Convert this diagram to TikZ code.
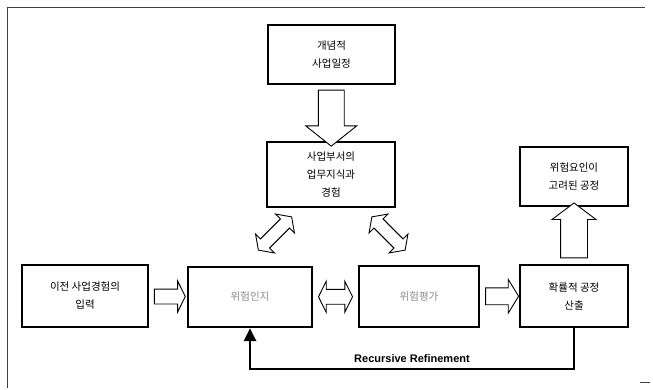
\documentclass[tikz,border=0pt]{standalone}
\usepackage{fontspec}
\newfontfamily\krfont{Noto Sans CJK KR}
\newfontfamily\lsans{Liberation Sans}
\usetikzlibrary{shapes.arrows,calc,arrows.meta}
\begin{document}
\begin{tikzpicture}[x=1pt,y=-1pt,
  box/.style={draw=black,line width=2.2pt,fill=white,align=center,inner sep=0pt,
    font=\krfont\fontsize{10.5}{18}\selectfont},
  sarrow/.style={shape=single arrow,draw=black,line width=0.9pt,fill=white,inner xsep=0pt},
  darrow/.style={shape=double arrow,draw=black,line width=0.9pt,fill=white,inner xsep=0pt},
  fb/.style={line width=2.8pt,-{Triangle[width=12pt,length=13pt]}}]
\useasboundingbox (0,0) rectangle (653,390);
% frame
\draw[line width=0.8pt,black!75] (7,388) -- (7,7) -- (645,7);
\draw[line width=0.8pt,black!75] (640,382) -- (650,382);
% boxes
\node[box,minimum width=127pt,minimum height=59pt] (plan) at (331.5,54.5) {개념적\\사업일정};
\node[box,minimum width=128pt,minimum height=65pt] (know) at (331,174.5) {사업부서의\\업무지식과\\경험};
\node[box,minimum width=108pt,minimum height=59pt] (riskf) at (574,176.5) {위험요인이\\고려된 공정};
\node[box,minimum width=126pt,minimum height=62pt] (prev) at (85,296) {이전 사업경험의\\입력};
\node[box,minimum width=124pt,minimum height=60pt,text=black!45] (recog) at (250,297) {위험인지};
\node[box,minimum width=120pt,minimum height=61pt,text=black!45] (eval) at (419,296.5) {위험평가};
\node[box,minimum width=108pt,minimum height=62pt] (prob) at (574,296) {확률적 공정\\산출};
% block arrows
\node[sarrow,minimum height=56pt,inner ysep=12.5pt,single arrow head extend=12.5pt,
  single arrow tip angle=103,rotate=-90] (a1) at ($(plan.south)!0.5!(know.north)$) {};
\node[sarrow,minimum height=55pt,inner ysep=13pt,single arrow head extend=8.5pt,
  single arrow tip angle=106,rotate=90] (a2) at ($(prob.north)!0.5!(riskf.south)$) {};
\node[sarrow,minimum height=31pt,inner ysep=7pt,single arrow head extend=8pt,
  single arrow tip angle=127] (a3) at ($(prev.east)!0.5!(recog.west)$) {};
\node[darrow,minimum height=34pt,inner ysep=7pt,double arrow head extend=8pt,
  double arrow tip angle=127] (a4) at ($(recog.east)!0.5!(eval.west)$) {};
\node[sarrow,minimum height=33pt,inner ysep=8pt,single arrow head extend=8.5pt,
  single arrow tip angle=117] (a5) at ($(eval.east)!0.5!(prob.west)$) {};
\node[darrow,minimum height=47pt,inner ysep=6pt,double arrow head extend=7pt,
  double arrow tip angle=110,rotate=45] (a6) at (275,233.5) {};
\node[darrow,minimum height=47pt,inner ysep=6pt,double arrow head extend=7pt,
  double arrow tip angle=110,rotate=-45] (a7) at (388.5,233.5) {};
% feedback loop
\coordinate (c1) at (prob.south |- 0,369);
\coordinate (c2) at (recog.south |- 0,369);
\draw[fb] (prob.south) -- (c1) -- node[above=2pt,font=\lsans\bfseries\fontsize{11}{13}\selectfont] (lbl) {Recursive Refinement} (c2) -- (recog.south);
\end{tikzpicture}
\end{document}
